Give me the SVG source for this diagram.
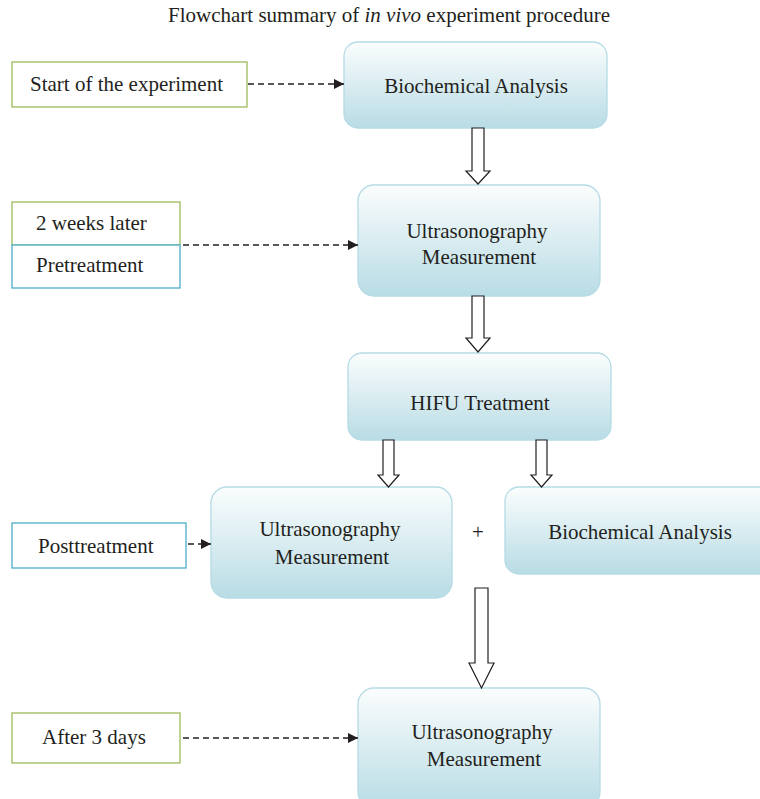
<svg xmlns="http://www.w3.org/2000/svg" width="760" height="799" viewBox="0 0 760 799">
<defs>
<linearGradient id="g" x1="0" y1="0" x2="0" y2="1">
<stop offset="0" stop-color="#fbfdfd"/>
<stop offset="1" stop-color="#b8dce5"/>
</linearGradient>
<marker id="ah" viewBox="0 0 10 10" refX="10" refY="5" markerWidth="10" markerHeight="10" markerUnits="userSpaceOnUse" orient="auto">
<path d="M0,0 L10,5 L0,10 z" fill="#231f20"/>
</marker>
</defs>
<style>
text{font-family:"Liberation Serif","Times New Roman",serif;font-size:21px;fill:#231f20}
.c{text-anchor:middle}
.node{fill:url(#g);stroke:#b5dbe6;stroke-width:1.3}
.lg{fill:#fff;stroke:#9bbb59;stroke-width:1.3}
.lb{fill:#fff;stroke:#4bacc6;stroke-width:1.3}
.dash{fill:none;stroke:#231f20;stroke-width:1.3;stroke-dasharray:6 4;marker-end:url(#ah)}
.blk{fill:#fff;stroke:#231f20;stroke-width:1.2}
</style>
<rect width="760" height="799" fill="#fff"/>
<text class="c" x="389" y="22">Flowchart summary of <tspan font-style="italic">in vivo</tspan> experiment procedure</text>

<g id="start">
<rect class="lg" x="12" y="62" width="235" height="45"/>
<text x="30" y="91">Start of the experiment</text>
</g>
<g id="weeks">
<rect class="lg" x="12" y="202" width="168" height="43"/>
<text x="36" y="230">2 weeks later</text>
</g>
<g id="pretreatment">
<rect class="lb" x="12" y="245" width="168" height="43"/>
<text x="36" y="272">Pretreatment</text>
</g>
<g id="posttreatment">
<rect class="lb" x="12" y="523" width="174" height="45"/>
<text x="38" y="553">Posttreatment</text>
</g>
<g id="after3days">
<rect class="lg" x="12" y="713" width="168" height="50"/>
<text x="42" y="744">After 3 days</text>
</g>

<g id="biochem1">
<rect class="node" x="344" y="42" width="263" height="86" rx="14"/>
<text class="c" x="476" y="93">Biochemical Analysis</text>
</g>
<g id="ultra1">
<rect class="node" x="358" y="185" width="242" height="111" rx="16"/>
<text class="c" x="477" y="238">Ultrasonography</text>
<text class="c" x="479" y="264">Measurement</text>
</g>
<g id="hifu">
<rect class="node" x="348" y="353" width="263" height="87" rx="14"/>
<text class="c" x="480" y="410">HIFU Treatment</text>
</g>
<g id="ultra2">
<rect class="node" x="211" y="487" width="241" height="111" rx="16"/>
<text class="c" x="330" y="536">Ultrasonography</text>
<text class="c" x="332" y="564">Measurement</text>
</g>
<g id="plus">
<text class="c" x="478" y="539">+</text>
</g>
<g id="biochem2">
<rect class="node" x="505" y="487" width="270" height="87" rx="14"/>
<text class="c" x="640" y="539">Biochemical Analysis</text>
</g>
<g id="ultra3">
<rect class="node" x="358" y="688" width="242" height="120" rx="16"/>
<text class="c" x="482" y="739">Ultrasonography</text>
<text class="c" x="484" y="766">Measurement</text>
</g>

<g id="connectors">
<path class="dash" d="M248,84 H344"/>
<path class="dash" d="M183,245 H358"/>
<path class="dash" d="M188,544 H211"/>
<path class="dash" d="M183,738 H358"/>
<path class="blk" d="M472,128 H484 V171 H490 L478,184 L466,171 H472 Z"/>
<path class="blk" d="M472,296 H484 V338 H490 L478,352 L466,338 H472 Z"/>
<path class="blk" d="M383,440 H394 V475 H399 L388.5,487 L378,475 H383 Z"/>
<path class="blk" d="M536,440 H547 V475 H552 L541.5,487 L531,475 H536 Z"/>
<path class="blk" d="M475,588 H488 V663 H494 L481.5,688 L469,663 H475 Z"/>
</g>
</svg>
